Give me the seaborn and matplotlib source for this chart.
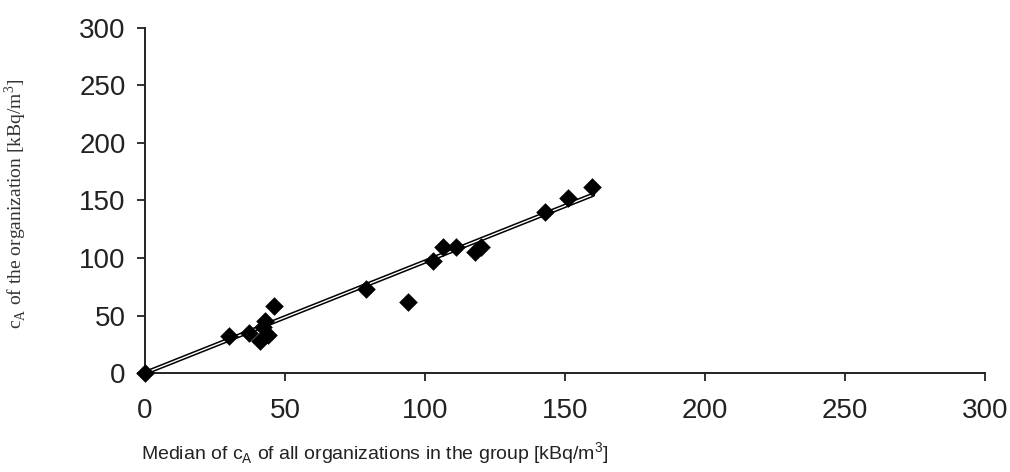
import numpy as np
import pandas as pd
import matplotlib
matplotlib.use("Agg")
import matplotlib.pyplot as plt
import seaborn as sns

# valores
median_group = [0, 30, 37, 41, 42, 43, 44, 46, 79, 94, 103, 106.5, 111, 118, 120, 143, 151, 159.5]
ca_org = [0, 32, 35, 28, 40, 45, 33, 58, 73, 62, 97, 110, 110, 105, 110, 140, 152, 162]

# linea de tendencia (extremos)
fit_x = [0, 160]
fit_y = [0, 155]

df = pd.DataFrame({"median": median_group, "ca": ca_org})

sns.set_style("white")
plt.rcParams['font.family'] = ['Liberation Sans', 'DejaVu Sans']

fig = plt.figure(figsize=(10.10, 4.72), dpi=100)
ax = fig.add_axes([145 / 1010, 1 - 373 / 472, 840 / 1010, 345 / 472])

# linea doble: negra gruesa con centro blanco
ax.plot(fit_x, fit_y, color="black", lw=3.2, zorder=2)
ax.plot(fit_x, fit_y, color="white", lw=1.0, zorder=3)

sns.scatterplot(data=df, x="median", y="ca", marker="D", color="black",
                s=90, edgecolor="black", linewidth=0, ax=ax, zorder=4, clip_on=False)

ax.set_xlim(0, 300)
ax.set_ylim(0, 300)
ax.set_xticks(np.arange(0, 301, 50))
ax.set_yticks(np.arange(0, 301, 50))

for s in ["top", "right"]:
    ax.spines[s].set_visible(False)
for s in ["left", "bottom"]:
    ax.spines[s].set_color("#222222")
    ax.spines[s].set_linewidth(1.4)

ax.tick_params(axis="both", direction="out", length=6, width=1.3, color="#222222",
               labelsize=20, labelcolor="#222222", bottom=True, left=True)
ax.tick_params(axis="x", pad=12)
ax.tick_params(axis="y", pad=8)

ax.set_xlabel(r"Median of c$_\mathregular{A}$ of all organizations in the group [kBq/m$^\mathregular{3}$]",
              fontsize=14, color="#222222")
ax.xaxis.set_label_coords(0.274, -0.195)
ax.set_ylabel(r"c$_\mathregular{A}$ of the organization [kBq/m$^\mathregular{3}$]",
              fontsize=14, family=['Liberation Serif', 'DejaVu Serif'], color="#333333")
ax.yaxis.set_label_coords(-0.138, 0.49)

fig.savefig("out.png", dpi=100)
